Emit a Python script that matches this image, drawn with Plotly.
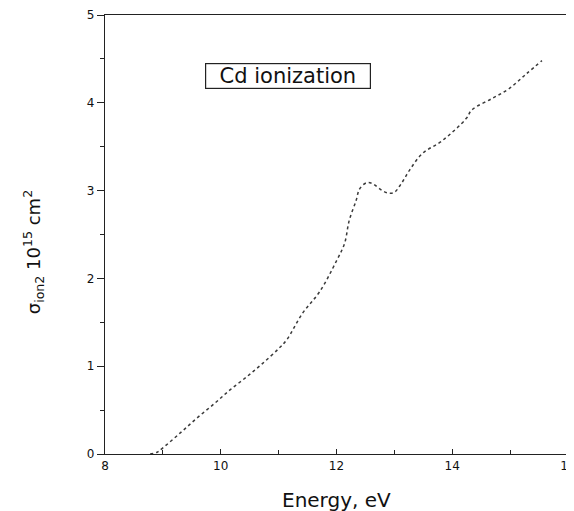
"""Cd ionization cross section vs. electron energy."""

import plotly.graph_objects as go

ENERGY_EV = [
    8.78, 8.9, 9.0, 9.3, 9.59, 9.9, 10.16, 10.45, 10.72, 11.0, 11.14, 11.41,
    11.71, 12.0, 12.14, 12.22, 12.34, 12.40, 12.52, 12.62, 12.79, 12.91, 13.0,
    13.12, 13.26, 13.48, 13.83, 14.24, 14.34, 14.69, 14.98, 15.28, 15.55,
]
SIGMA_ION2 = [
    0.0, 0.02, 0.07, 0.24, 0.41, 0.58, 0.73, 0.88, 1.03, 1.20, 1.30, 1.60,
    1.85, 2.20, 2.40, 2.66, 2.89, 3.02, 3.09, 3.08, 3.00, 2.97, 2.98,
    3.08, 3.23, 3.42, 3.57, 3.82, 3.92, 4.05, 4.16, 4.33, 4.48,
]
X_TICKS = [8, 10, 12, 14, 16]
Y_TICKS = [0, 1, 2, 3, 4, 5]

AXIS_COLOR = "#222222"
TEXT_COLOR = "#111111"
FONT = "DejaVu Sans, Arial, sans-serif"

# the page body has an 8px margin, so the figure is sized to fit what is left
FIG_W, FIG_H = 566, 503

fig = go.Figure()
fig.add_trace(
    go.Scatter(
        x=ENERGY_EV,
        y=SIGMA_ION2,
        mode="lines",
        line=dict(color="#3a3a3a", width=1.5, dash="dot", shape="spline"),
        showlegend=False,
    )
)

fig.add_annotation(
    x=11.17,
    y=4.31,
    text="  Cd ionization  ",
    showarrow=False,
    font=dict(family=FONT, size=21, color=TEXT_COLOR),
    bordercolor=AXIS_COLOR,
    borderwidth=1.2,
    borderpad=0,
    bgcolor="white",
)

# axis titles placed by hand so the tick labels can spill past the edge
fig.add_annotation(
    xref="paper",
    yref="paper",
    x=-0.155,
    y=0.46,
    xanchor="center",
    yanchor="middle",
    text="σ<sub>ion2</sub> 10<sup>15</sup> cm<sup>2</sup>",
    textangle=-90,
    showarrow=False,
    font=dict(family=FONT, size=18, color=TEXT_COLOR),
)
fig.add_annotation(
    xref="paper",
    yref="paper",
    x=0.5,
    y=-0.105,
    xanchor="center",
    yanchor="middle",
    text="Energy, eV",
    showarrow=False,
    font=dict(family=FONT, size=20, color=TEXT_COLOR),
)

axis_common = dict(
    showline=True,
    linecolor=AXIS_COLOR,
    linewidth=1.2,
    mirror=True,
    showgrid=False,
    zeroline=False,
    automargin=False,
    tickcolor=AXIS_COLOR,
    ticklabeloverflow="allow",
    tickfont=dict(family=FONT, size=12, color=TEXT_COLOR),
)

fig.update_xaxes(
    range=[8, 16],
    tickvals=X_TICKS,
    ticks="inside",
    ticklen=5,
    minor=dict(ticks="inside", dtick=1, ticklen=4, tickcolor=AXIS_COLOR),
    **axis_common,
)
fig.update_yaxes(
    range=[0, 5],
    tickvals=Y_TICKS,
    ticks="outside",
    ticklen=7,
    minor=dict(ticks="outside", dtick=0.5, ticklen=4, tickcolor=AXIS_COLOR),
    **axis_common,
)

fig.update_layout(
    width=FIG_W,
    height=FIG_H,
    margin=dict(l=97, r=6, t=7, b=57),
    paper_bgcolor="white",
    plot_bgcolor="white",
)

fig.write_html("out.html")
